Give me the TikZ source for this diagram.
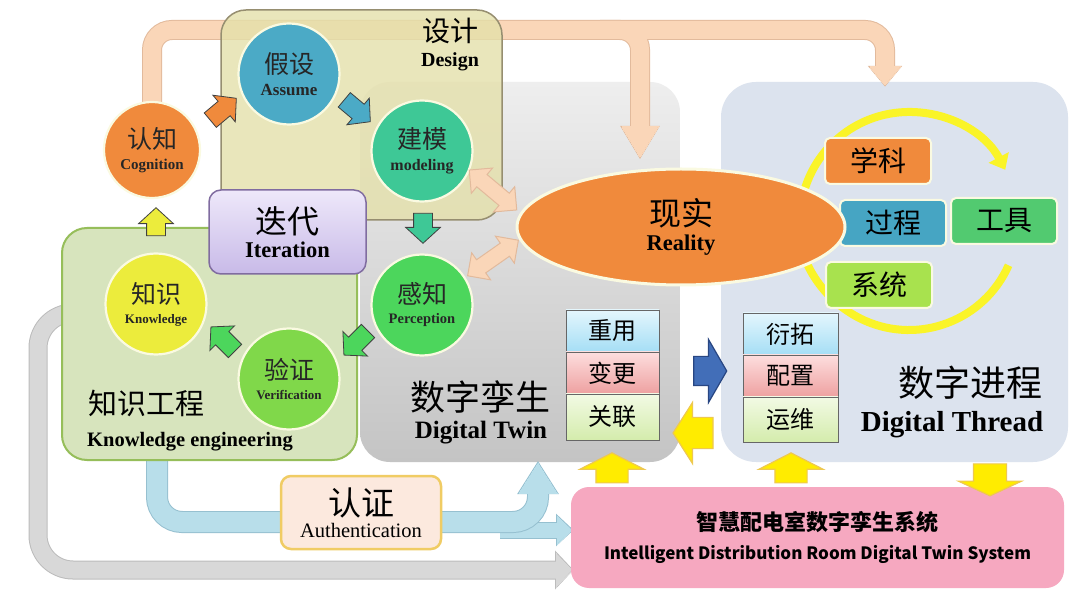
\documentclass[tikz,border=0pt]{standalone}
\usepackage{fontspec}
\setmainfont{Liberation Serif}
\newfontfamily\cjk{Noto Sans CJK SC}
\usepackage{tikz}
\usetikzlibrary{shapes.geometric, shapes.arrows, arrows.meta, positioning, calc}

\definecolor{peachF}{RGB}{250,214,184}
\definecolor{peachD}{RGB}{226,186,156}
\definecolor{designF}{RGB}{228,224,170}
\definecolor{designD}{RGB}{150,142,112}
\definecolor{twinT}{RGB}{238,238,238}
\definecolor{twinB}{RGB}{196,196,196}
\definecolor{threadF}{RGB}{220,227,238}
\definecolor{knowF}{RGB}{215,228,189}
\definecolor{knowD}{RGB}{150,190,90}
\definecolor{iterT}{RGB}{238,232,250}
\definecolor{iterB}{RGB}{200,186,232}
\definecolor{iterD}{RGB}{128,108,160}
\definecolor{rimC}{RGB}{250,250,225}
\definecolor{orangeF}{RGB}{240,138,60}
\definecolor{blueF}{RGB}{75,170,198}
\definecolor{tealF}{RGB}{62,200,150}
\definecolor{greenF}{RGB}{76,214,92}
\definecolor{yellowF}{RGB}{236,236,60}
\definecolor{limeF}{RGB}{128,216,74}
\definecolor{skyF}{RGB}{70,165,195}
\definecolor{toolF}{RGB}{82,202,112}
\definecolor{sysF}{RGB}{168,226,78}
\definecolor{ringC}{RGB}{250,244,40}
\definecolor{pinkF}{RGB}{246,168,192}
\definecolor{authF}{RGB}{252,233,222}
\definecolor{authD}{RGB}{240,204,100}
\definecolor{goldF}{RGB}{255,236,0}
\definecolor{goldD}{RGB}{238,200,80}
\definecolor{navyF}{RGB}{66,110,184}
\definecolor{navyD}{RGB}{40,70,130}
\definecolor{iceF}{RGB}{184,222,234}
\definecolor{iceD}{RGB}{150,192,208}
\definecolor{ashF}{RGB}{216,216,216}
\definecolor{ashD}{RGB}{188,188,188}
\definecolor{reuseT}{RGB}{228,246,253}
\definecolor{reuseB}{RGB}{165,222,245}
\definecolor{changeT}{RGB}{253,222,222}
\definecolor{changeB}{RGB}{238,160,160}
\definecolor{linkT}{RGB}{242,250,228}
\definecolor{linkB}{RGB}{212,236,172}
\newcommand{\stagetext}[3]{{\cjk\fontsize{25}{27}\selectfont #1}\\[8pt]{\bfseries\fontsize{#3}{#3}\selectfont #2}}

\begin{document}
\begin{tikzpicture}[x=1pt, y=-1pt,
    stage/.style={circle, draw=rimC, line width=2.2pt, minimum size=101pt, inner sep=0pt, align=center, text=black!85},
    flow arrow/.style={single arrow, fill=#1, draw=black!75, line width=0.8pt, minimum height=34pt, minimum width=34pt, single arrow head extend=8pt, single arrow tip angle=95, inner xsep=0pt, inner ysep=9pt},
    link arrow/.style={double arrow, fill=peachF, draw=peachD, line width=1pt, minimum height=62pt, minimum width=32pt, double arrow head extend=8.5pt, inner xsep=0pt, inner ysep=7.5pt},
    fat arrow/.style={single arrow, inner xsep=0pt, line width=1.2pt},
    panel/.style={rectangle, rounded corners=#1, inner sep=0pt},
    tag/.style={rectangle, rounded corners=5pt, draw=rimC, line width=2pt, minimum width=106pt, minimum height=46pt, font=\cjk\fontsize{28}{28}\selectfont},
    stack/.style={rectangle, draw=black!60, line width=0.8pt, minimum width=93pt, minimum height=42pt, outer sep=0pt, font=\cjk\fontsize{24}{24}\selectfont},
    zhlabel/.style={font=\cjk\fontsize{#1}{#1}\selectfont, inner sep=0pt},
    enlabel/.style={font=\bfseries\fontsize{#1}{#1}\selectfont, inner sep=0pt}]

  \fill[white] (0,0) rectangle (1079,609);
  \useasboundingbox (0,0) rectangle (1079,609);

  % big panels
  \node[panel=30pt, top color=twinT, bottom color=twinB, minimum width=320pt, minimum height=380pt] (twin) at (520,272) {};
  \node[panel=35pt, fill=threadF, minimum width=347pt, minimum height=380pt] (thread) at (894.5,272) {};

  % feedback bands
  \coordinate (twin-top) at (640,157);
  \coordinate (thread-top) at (885,85);
  \foreach \w/\c in {20/peachD, 18/peachF}{
    \draw[\c, line width=\w pt, rounded corners=20pt] (152,120) |- (640,30) -- (640,130);
    \draw[\c, line width=\w pt, rounded corners=20pt] (600,30) -- (885,30) -- (885,70);
    \filldraw[\c, line width=\w pt-18pt] ($(twin-top)+(-18,-30)$) -- ($(twin-top)+(18,-30)$) -- (twin-top) -- cycle;
    \filldraw[\c, line width=\w pt-18pt] ($(thread-top)+(-15,-18)$) -- ($(thread-top)+(15,-18)$) -- (thread-top) -- cycle;
  }
  \coordinate (sys-low) at (572,570);
  \foreach \w/\c in {19/ashD, 17/ashF}{
    \draw[\c, line width=\w pt, rounded corners=35pt] (150,313) -- (38,313) -- (38,570) -- (558,570);
    \filldraw[\c, line width=\w pt-17pt] ($(sys-low)+(-16,-17)$) -- ($(sys-low)+(-16,17)$) -- (sys-low) -- cycle;
  }
  \coordinate (sys-mid) at (572,530);
  \coordinate (twin-bottom) at (538,463);
  \foreach \w/\c in {17/iceD, 15/iceF}{
    \draw[\c, line width=\w pt] (500,530) -- (558,530);
    \filldraw[\c, line width=\w pt-15pt] ($(sys-mid)+(-15,-14)$) -- ($(sys-mid)+(-15,14)$) -- (sys-mid) -- cycle;
  }
  \foreach \w/\c in {22/iceD, 20/iceF}{
    \draw[\c, line width=\w pt, rounded corners=25pt] (157,440) |- (538,522) -- (538,490);
    \filldraw[\c, line width=\w pt-20pt] ($(twin-bottom)+(-19,30)$) -- ($(twin-bottom)+(19,30)$) -- (twin-bottom) -- cycle;
  }

  \node[panel=25pt, fill=designF, fill opacity=0.8, draw=designD, line width=1.5pt, minimum width=281pt, minimum height=210pt] (design) at (361.5,115) {};
  \node[panel=25pt, fill=knowF, draw=knowD, line width=2pt, minimum width=295pt, minimum height=232pt] (knowbox) at (209.5,344) {};
  \node[panel=12pt, top color=iterT, bottom color=iterB, draw=iterD, line width=1.5pt, minimum width=157pt, minimum height=84pt, align=center] (iter) at (287.5,232) {{\cjk\fontsize{32}{32}\selectfont 迭代}\\[5pt]{\bfseries\fontsize{22.5}{22.5}\selectfont Iteration}};

  % cycle of stages
  \node[stage, fill=orangeF, minimum size=96pt] (cog) at (152,150) {\stagetext{认知}{Cognition}{15}};
  \node[stage, fill=blueF] (assume) at (289,74) {\stagetext{假设}{Assume}{17}};
  \node[stage, fill=tealF] (model) at (422,151) {\stagetext{建模}{modeling}{16}};
  \node[stage, fill=greenF] (percept) at (422,305) {\stagetext{感知}{Perception}{14.5}};
  \node[stage, fill=yellowF] (knowledge) at (156,304) {\stagetext{知识}{Knowledge}{13}};
  \node[stage, fill=limeF] (verify) at (289,379) {\stagetext{验证}{Verification}{13}};

  \node[flow arrow=orangeF, rotate=40] (cog-assume) at (220,112) {};
  \node[flow arrow=blueF, rotate=-40] (assume-model) at (354,108) {};
  \node[flow arrow=tealF, rotate=-90, minimum height=30pt] (model-percept) at (423,224) {};
  \node[flow arrow=greenF, rotate=-135] (percept-verify) at (359,340) {};
  \node[flow arrow=greenF, rotate=135] (verify-knowledge) at (226,342) {};
  \node[flow arrow=yellowF, rotate=90, minimum height=28pt] (knowledge-cog) at (156,226) {};

  \node[link arrow, rotate=-40] (model-reality) at (493,190) {};
  \node[link arrow, rotate=35] (percept-reality) at (493,258) {};

  % digital thread ring
  \draw[ringC, line width=8pt, -{Triangle[width=22pt,length=14pt]}] ([shift={(-190:109)}]909,221) arc[start angle=-190, end angle=-28, radius=109];
  \draw[ringC, line width=8pt, -{Triangle[width=22pt,length=14pt]}] ([shift={(24:109)}]909,221) arc[start angle=24, end angle=185, radius=109];
  \node[tag, fill=orangeF] (subject) at (878,161) {学科};
  \node[tag, fill=skyF] (process) at (893,223) {过程};
  \node[tag, fill=toolF] (tool) at (1004,221) {工具};
  \node[tag, fill=sysF] (system-tag) at (879,285) {系统};

  \node[ellipse, fill=orangeF, draw=rimC, line width=3pt, minimum width=328pt, minimum height=116pt, inner sep=0pt, align=center] (reality) at (681,227) {{\cjk\fontsize{32}{32}\selectfont 现实}\\[6pt]{\bfseries\fontsize{22.5}{22.5}\selectfont Reality}};

  % stacked tabs
  \node[stack, top color=reuseT, bottom color=reuseB] (reuse) at (612.5,331) {重用};
  \node[stack, top color=changeT, bottom color=changeB, below=0pt of reuse] (change) {变更};
  \node[stack, top color=linkT, bottom color=linkB, below=0pt of change, minimum height=46pt] (link) {关联};
  \node[stack, top color=reuseT, bottom color=reuseB, minimum width=95pt] (derive) at (790.5,334) {衍拓};
  \node[stack, top color=changeT, bottom color=changeB, minimum width=95pt, below=0pt of derive] (config) {配置};
  \node[stack, top color=linkT, bottom color=linkB, minimum width=95pt, below=0pt of config, minimum height=45pt] (ops) {运维};

  \node[panel=18pt, fill=pinkF, minimum width=493pt, minimum height=101pt, align=center, font=\cjk\bfseries] (system) at (817.5,537.5) {{\fontsize{22}{22}\selectfont 智慧配电室数字孪生系统}\\[12pt]{\fontsize{17}{17}\selectfont Intelligent Distribution Room Digital Twin System}};
  \node[panel=10pt, fill=authF, draw=authD, line width=2.5pt, minimum width=160pt, minimum height=73pt, align=center] (auth) at (361,512.5) {{\cjk\fontsize{33}{33}\selectfont 认证}\\[4pt]{\fontsize{20.5}{20.5}\selectfont Authentication}};

  \node[fat arrow, fill=goldF, draw=goldD, rotate=90, minimum height=30pt, minimum width=63pt, inner ysep=15.5pt, single arrow head extend=16pt, single arrow tip angle=126] (system-twin) at (612,472) {};
  \node[fat arrow, fill=goldF, draw=goldD, rotate=90, minimum height=30pt, minimum width=63pt, inner ysep=15.5pt, single arrow head extend=16pt, single arrow tip angle=126] (system-thread) at (791,472) {};
  \node[fat arrow, fill=goldF, draw=goldD, rotate=-90, minimum height=32pt, minimum width=62pt, inner ysep=16pt, single arrow head extend=15pt, single arrow tip angle=130] (thread-system) at (990,476) {};
  \node[fat arrow, fill=navyF, draw=navyD, minimum height=33pt, minimum width=62pt, inner ysep=14pt, single arrow head extend=17pt, single arrow tip angle=120] (twin-thread) at (706,371) {};
  \node[fat arrow, fill=goldF, draw=goldD, rotate=180, minimum height=40pt, minimum width=60pt, inner ysep=15pt, single arrow head extend=15pt, single arrow tip angle=115] (thread-twin) at (698,433) {};

  % panel titles
  \node[zhlabel=28] (design-zh) at (450,31) {设计};
  \node[enlabel=20] (design-en) at (450,62) {Design};
  \node[zhlabel=29] (know-zh) at (146,403) {知识工程};
  \node[enlabel=20.5] (know-en) at (190,442) {Knowledge engineering};
  \node[zhlabel=35] (twin-zh) at (480,397) {数字孪生};
  \node[enlabel=25] (twin-en) at (481,433) {Digital Twin};
  \node[zhlabel=36] (thread-zh) at (970,383) {数字进程};
  \node[enlabel=29] (thread-en) at (952,425) {Digital Thread};
\end{tikzpicture}
\end{document}
